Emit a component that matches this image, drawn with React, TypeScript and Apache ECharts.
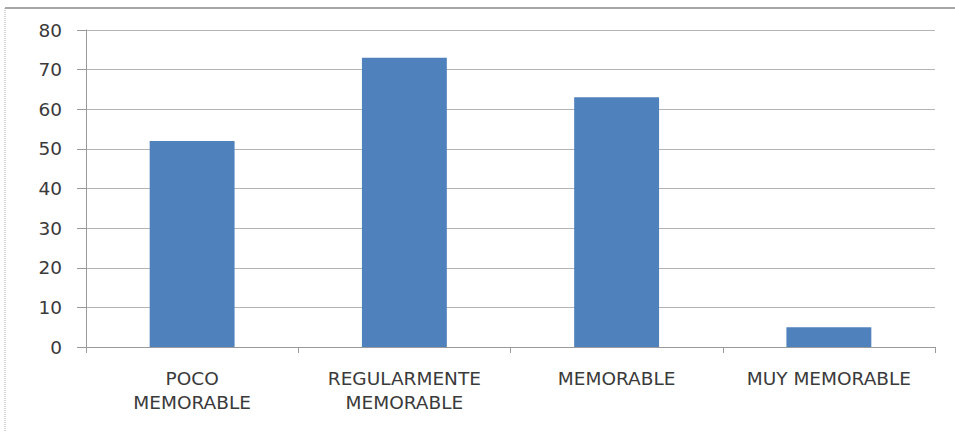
import React, { useEffect, useRef } from "react";
import * as echarts from "echarts";

const categories = ["POCO\nMEMORABLE", "REGULARMENTE\nMEMORABLE", "MEMORABLE", "MUY MEMORABLE"];
const values = [52, 73, 63, 5];
const yTicks = { min: 0, max: 80, interval: 10 };

export default function App() {
  const ref = useRef<HTMLDivElement>(null);
  useEffect(() => {
    const chart = echarts.init(ref.current!, null, { renderer: "svg" });
    chart.setOption({
      animation: false,
      backgroundColor: "#ffffff",
      graphic: [
        { type: "line", shape: { x1: 5, y1: 8, x2: 955, y2: 8 }, style: { stroke: "#8a8a8a", lineWidth: 1.5 } },
        { type: "line", shape: { x1: 5, y1: 8, x2: 5, y2: 432 }, style: { stroke: "#a8a8a8", lineWidth: 1, lineDash: [1, 1] } },
      ],
      grid: { left: 86, right: 20, top: 30, bottom: 85 },
      xAxis: {
        type: "category",
        data: categories,
        axisLine: { lineStyle: { color: "#9a9a9a", width: 1 } },
        axisTick: { show: true, length: 6, alignWithLabel: false, lineStyle: { color: "#9a9a9a" } },
        axisLabel: {
          color: "#3a3a3a",
          fontSize: 18.5,
          lineHeight: 24,
          margin: 19,
          fontFamily: "DejaVu Sans",
          interval: 0,
        },
      },
      yAxis: {
        type: "value",
        min: yTicks.min,
        max: yTicks.max,
        interval: yTicks.interval,
        axisLine: { show: true, lineStyle: { color: "#9a9a9a", width: 1 } },
        axisTick: { show: true, length: 9, lineStyle: { color: "#9a9a9a" } },
        splitLine: { lineStyle: { color: "#b4b4b4", width: 1 } },
        axisLabel: { color: "#3a3a3a", fontSize: 18.5, margin: 24, fontFamily: "DejaVu Sans" },
      },
      series: [
        {
          type: "bar",
          data: values,
          barWidth: "40%",
          itemStyle: { color: "#4F81BD" },
        },
      ],
    });
    return () => chart.dispose();
  }, []);
  return <div ref={ref} style={{ width: 955, height: 432, position: "absolute", left: 0, top: 0 }} />;
}
